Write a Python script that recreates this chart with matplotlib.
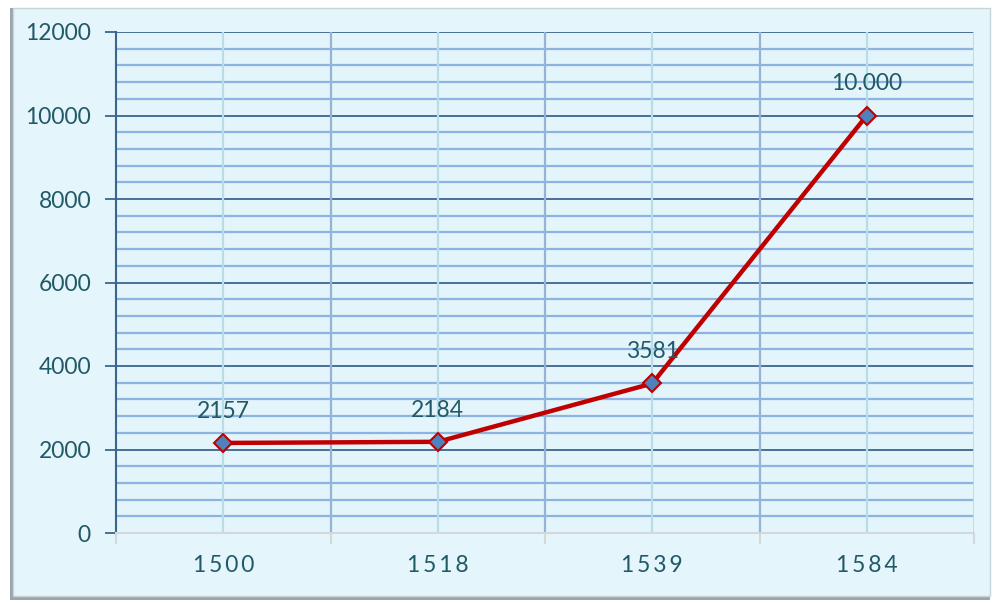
import matplotlib
matplotlib.use("Agg")
import matplotlib.pyplot as plt
from matplotlib.patches import Rectangle
from matplotlib.ticker import FixedLocator

years = ["1500", "1518", "1539", "1584"]
values = [2157, 2184, 3581, 10000]
value_labels = ["2157", "2184", "3581", "10.000"]
y_ticks = [0, 2000, 4000, 6000, 8000, 10000, 12000]

W, H = 993, 604
fig = plt.figure(figsize=(W / 100, H / 100), dpi=100)
fig.patch.set_facecolor("#ffffff")

# outer frame with shadow
fig.patches.append(Rectangle((10 / W, 4 / H), 980 / W, 592 / H, transform=fig.transFigure,
                             facecolor="#9aa6aa", edgecolor="none", zorder=-10))
fig.patches.append(Rectangle((13 / W, 8 / H), 977 / W, 588 / H, transform=fig.transFigure,
                             facecolor="#e4f5fb", edgecolor="#c8d4d8", linewidth=1, zorder=-9))

ax = fig.add_axes([116 / W, 1 - 533 / H, (974 - 116) / W, (533 - 32) / H])
ax.set_zorder(5)
ax.set_facecolor("#e3f5fb")
font = ["Lato", "DejaVu Sans"]
tcol = "#215967"
fs = 16.5

x = list(range(len(years)))
ax.set_xlim(-0.5, len(years) - 0.5)
ax.set_ylim(0, 12000)

# gridlines
for v in range(0, 12001, 400):
    if v % 2000 == 0:
        ax.axhline(v, color="#3b6491", lw=1.3, zorder=1)
    else:
        ax.axhline(v, color="#8db3e2", lw=1.6, zorder=1)
for i in x:
    ax.axvline(i, color="#b7dde8", lw=1.6, zorder=1)
for b in [0.5, 1.5, 2.5]:
    ax.axvline(b, color="#95b3d7", lw=1.6, zorder=1)
ax.axvline(3.5, color="#b7dde8", lw=2, zorder=1)

ax.plot(x, values, color="#c00000", lw=3.2, marker="D", markersize=9,
        markerfacecolor="#4f81bd", markeredgecolor="#c00000", markeredgewidth=1.5, zorder=3,
        clip_on=False)

for xi, v, lab in zip(x, values, value_labels):
    ax.annotate(lab, (xi, v), xytext=(0, 18), textcoords="offset points", ha="center",
                va="baseline", fontsize=fs, color=tcol, family=font, zorder=4)

ax.set_yticks(y_ticks)
ax.set_yticklabels([str(t) for t in y_ticks], fontsize=fs, color=tcol, family=font)
ax.tick_params(axis="y", length=8, width=1.3, color="#3b6491", pad=10)
ax.set_xticks(x)
ax.set_xticklabels(["\u2009".join(y) for y in years], fontsize=fs, color=tcol, family=font)
ax.tick_params(axis="x", length=0, pad=16)
ax.xaxis.set_minor_locator(FixedLocator([-0.5, 0.5, 1.5, 2.5, 3.5]))
ax.tick_params(axis="x", which="minor", length=8, width=1.5, color="#d3d8da", direction="out")

for s in ["top", "right"]:
    ax.spines[s].set_visible(False)
ax.spines["left"].set_color("#3b6491")
ax.spines["left"].set_linewidth(1.5)
ax.spines["bottom"].set_color("#d3d8da")
ax.spines["bottom"].set_linewidth(1.5)

fig.savefig("out.png", dpi=100, facecolor=fig.get_facecolor())
